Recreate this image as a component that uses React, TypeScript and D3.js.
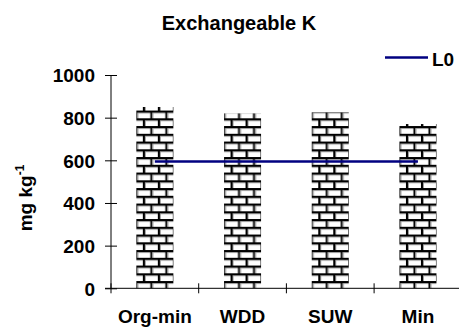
import React, { useEffect, useRef } from 'react';
import * as d3 from 'd3';

const categories = ['Org-min', 'WDD', 'SUW', 'Min'];
const values = [850, 820, 825, 770];
const l0Value = 595;
const yTicks = [0, 200, 400, 600, 800, 1000];

const W = 459;
const H = 329;

export default function App() {
  const ref = useRef<SVGSVGElement | null>(null);

  useEffect(() => {
    if (!ref.current) return;
    const svg = d3.select(ref.current);
    svg.selectAll('*').remove();

    const font = 'Arial, "Liberation Sans", sans-serif';
    const left = 111;
    const x = d3.scaleBand<string>().domain(categories).range([left, left + 4 * 87.7]).padding(0);
    const y = d3.scaleLinear().domain([0, 1000]).range([288.3, 75]);
    const barW = 37;
    const brickW = 15;
    const brickH = 7.75;

    const defs = svg.append('defs');
    categories.forEach((c, i) => {
      const bx = (x(c) || 0) + x.bandwidth() / 2 - barW / 2;
      const p = defs
        .append('pattern')
        .attr('id', `brick${i}`)
        .attr('patternUnits', 'userSpaceOnUse')
        .attr('x', bx + 6.5)
        .attr('y', y(0) + 0.5)
        .attr('width', brickW)
        .attr('height', brickH * 2);
      p.append('rect').attr('width', brickW).attr('height', brickH * 2).attr('fill', '#fff');
      // mortar lines
      [0, brickH].forEach((yy, k) => {
        p.append('rect').attr('x', 0).attr('y', yy).attr('width', brickW).attr('height', 2).attr('fill', '#000');
        p.append('rect').attr('x', 0).attr('y', yy + 2).attr('width', brickW).attr('height', 1).attr('fill', '#9a9a9a');
        const vx = k === 0 ? 0 : brickW / 2;
        p.append('rect').attr('x', vx).attr('y', yy).attr('width', 2).attr('height', brickH).attr('fill', '#000');
        p.append('rect').attr('x', vx + 2).attr('y', yy + 2).attr('width', 1).attr('height', brickH - 2).attr('fill', '#9a9a9a');
      });
    });

    // bars
    svg
      .append('g')
      .selectAll('rect')
      .data(values)
      .enter()
      .append('rect')
      .attr('x', (_, i) => (x(categories[i]) || 0) + x.bandwidth() / 2 - barW / 2)
      .attr('y', (d) => y(d))
      .attr('width', barW)
      .attr('height', (d) => y(0) - y(d))
      .attr('fill', (_, i) => `url(#brick${i})`);

    // y axis
    const yAxis = d3
      .axisLeft(y)
      .tickValues(yTicks)
      .tickSize(6)
      .tickFormat((d) => String(d));
    const yg = svg.append('g').attr('transform', `translate(${left},0)`).call(yAxis);
    yg.select('.domain').attr('stroke', '#000').attr('d', `M0,${y(1000)}V${y(0)}`);
    yg.selectAll('.tick line').attr('x1', 6).attr('x2', -6).attr('stroke', '#000');
    yg.selectAll('.tick text')
      .attr('x', -16)
      .attr('dy', '0.36em')
      .attr('font-family', font)
      .attr('font-weight', 'bold')
      .attr('font-size', 19)
      .attr('fill', '#000');

    // x axis
    svg
      .append('line')
      .attr('x1', left - 6)
      .attr('x2', W)
      .attr('y1', y(0))
      .attr('y2', y(0))
      .attr('stroke', '#000');
    const xg = svg.append('g');
    categories.forEach((c) => {
      const x0 = x(c) || 0;
      xg.append('line')
        .attr('x1', x0)
        .attr('x2', x0)
        .attr('y1', y(0) - 5)
        .attr('y2', y(0) + 5)
        .attr('stroke', '#000');
      xg.append('text')
        .attr('x', x0 + x.bandwidth() / 2)
        .attr('y', 323)
        .attr('text-anchor', 'middle')
        .attr('font-family', font)
        .attr('font-weight', 'bold')
        .attr('font-size', 19)
        .text(c);
    });

    // L0 line
    const xc = (c: string) => (x(c) || 0) + x.bandwidth() / 2;
    svg
      .append('line')
      .attr('x1', xc(categories[0]))
      .attr('x2', xc(categories[categories.length - 1]))
      .attr('y1', y(l0Value))
      .attr('y2', y(l0Value))
      .attr('stroke', '#000080')
      .attr('stroke-width', 2.5);

    // legend
    svg
      .append('line')
      .attr('x1', 385)
      .attr('x2', 428)
      .attr('y1', 57.5)
      .attr('y2', 57.5)
      .attr('stroke', '#000080')
      .attr('stroke-width', 2.5);
    svg
      .append('text')
      .attr('x', 432)
      .attr('y', 66)
      .attr('font-family', font)
      .attr('font-weight', 'bold')
      .attr('font-size', 19)
      .text('L0');

    // title
    svg
      .append('text')
      .attr('x', 239)
      .attr('y', 30)
      .attr('text-anchor', 'middle')
      .attr('font-family', font)
      .attr('font-weight', 'bold')
      .attr('font-size', 20)
      .text('Exchangeable K');

    // y label
    const yl = svg
      .append('text')
      .attr('transform', `translate(32,198) rotate(-90)`)
      .attr('text-anchor', 'middle')
      .attr('font-family', font)
      .attr('font-weight', 'bold')
      .attr('font-size', 19);
    yl.append('tspan').text('mg kg');
    yl.append('tspan').attr('dy', -8).attr('font-size', 12).text('-1');
  }, []);

  return (
    <svg
      ref={ref}
      width={W}
      height={H}
      style={{ position: 'absolute', left: 0, top: 0, background: '#fff' }}
    />
  );
}
